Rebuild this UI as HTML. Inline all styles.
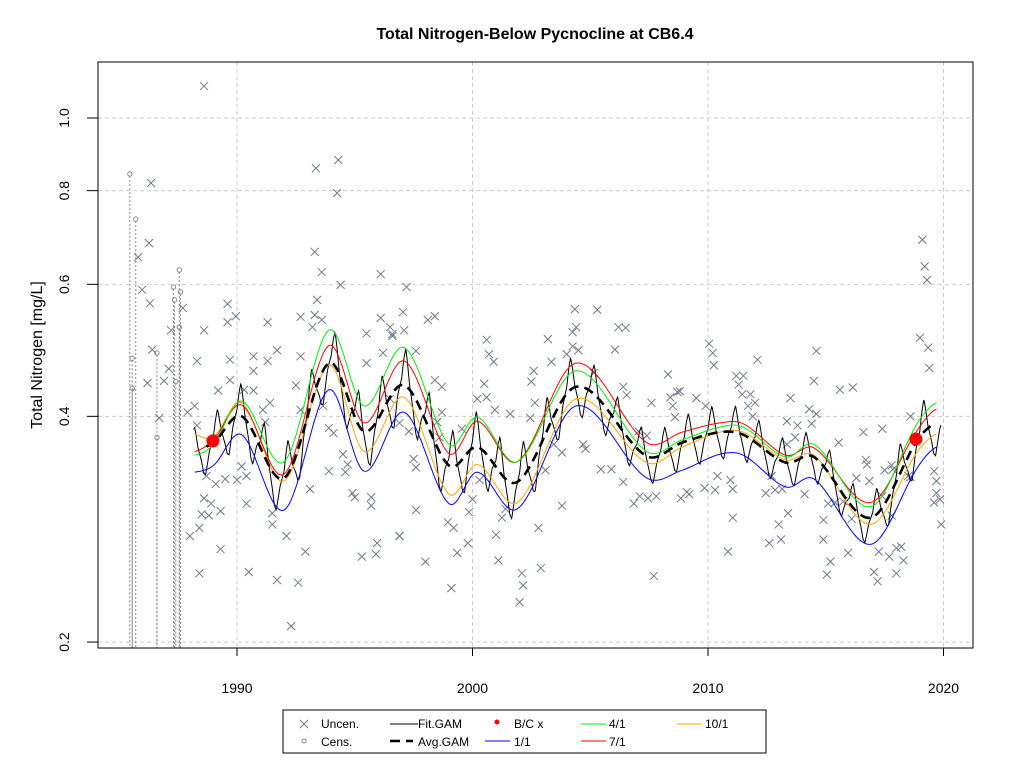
<!DOCTYPE html>
<html><head><meta charset="utf-8"><style>
body{margin:0;background:#fff;}
svg{display:block;font-family:"Liberation Sans",Arial,sans-serif;}
</style></head><body>
<svg id="chart" width="1024" height="768" viewBox="0 0 1024 768">
<rect x="0" y="0" width="1024" height="768" fill="#fff"/>
<text x="535" y="39" text-anchor="middle" font-size="16" font-weight="bold">Total Nitrogen-Below Pycnocline at CB6.4</text>
<g id="grid"></g>
<g id="cens"></g>
<g id="unc"></g>
<g id="lines"></g>
<g id="bc"></g>
<rect x="98" y="62" width="875" height="586" fill="none" stroke="#000" stroke-width="1"/>
<g id="axes"></g>
<text transform="translate(42,355) rotate(-90)" text-anchor="middle" font-size="16">Total Nitrogen [mg/L]</text>
<g>
<rect x="283" y="710" width="483" height="43" fill="#fff" stroke="#000" stroke-width="1"/>
<g><path d="M300,720L308,728M300,728L308,720" stroke="#6b7b8c"/><text x="321" y="728" font-size="12">Uncen.</text></g>
<g><circle cx="304" cy="741" r="2" fill="none" stroke="#888"/><text x="321" y="746" font-size="12">Cens.</text></g>
<g><line x1="390" y1="724" x2="418" y2="724" stroke="#000"/><text x="418" y="728" font-size="12">Fit.GAM</text></g>
<g><line x1="390" y1="741" x2="413" y2="741" stroke="#000" stroke-width="2.5" stroke-dasharray="10 6"/><text x="418" y="746" font-size="12">Avg.GAM</text></g>
<g><circle cx="497" cy="722" r="2.5" fill="red"/><text x="514" y="728" font-size="12">B/C x</text></g>
<g><line x1="485" y1="741" x2="510" y2="741" stroke="#0000ff"/><text x="514" y="746" font-size="12">1/1</text></g>
<g><line x1="581" y1="724" x2="606" y2="724" stroke="#00ee00"/><text x="609" y="728" font-size="12">4/1</text></g>
<g><line x1="581" y1="741" x2="606" y2="741" stroke="#ff0000"/><text x="609" y="746" font-size="12">7/1</text></g>
<g><line x1="677" y1="724" x2="702" y2="724" stroke="#ffa500"/><text x="705" y="728" font-size="12">10/1</text></g>
</g>
</svg>
<script>
// ---- data ----
const curveYears = [1988.2,1989,1990.2,1992.0,1993.9,1995.4,1997.1,1999.0,2000.2,2001.9,2004.4,2007.4,2008.9,2010.5,2011.5,2013.3,2014.5,2016.9,2018.9,2019.7];
const green4_1 = [.355,.367,.419,.348,.521,.413,.494,.367,.399,.348,.460,.359,.372,.387,.387,.353,.367,.303,.392,.417];
const red7_1 = [.359,.372,.414,.335,.497,.392,.474,.357,.394,.348,.471,.369,.381,.392,.391,.355,.363,.307,.384,.409];
const orange10_1 = [.378,.375,.417,.328,.468,.359,.424,.315,.345,.307,.422,.347,.364,.381,.381,.350,.355,.287,.359,.379];
const blue1_1 = [.337,.344,.378,.300,.434,.338,.405,.306,.337,.301,.413,.331,.339,.356,.355,.322,.330,.270,.342,.364];
const avgGam = [.361,.369,.400,.331,.471,.382,.440,.344,.364,.327,.438,.354,.369,.381,.378,.347,.353,.293,.372,.392];
const ampYears = [1988,1990,1992,1994,1997,1999,2000,2002,2004,2007,2010,2013,2015,2017,2019,2020];
const ampValues = [0.08,0.1,0.105,0.105,0.115,0.115,0.11,0.11,0.1,0.08,0.085,0.075,0.075,0.08,0.1,0.1];
const seasonShape = [0.2,0.7,1.0,0.6,0.1,-0.2,-0.5,-0.9,-1.0,-0.6,-0.2,0.0];
const uncYears = [1988.6,1986.35,1993.35,1994.3,1994.25,1986.26,1985.8,1993.3,1993.6,1996.1,1994.4,1985.97,1986.3,1993.4,1987.7,1989.6,1989.6,1989.95,1991.3,1988.6,1987.2,1992.7,1993.3,1993.6,1993.2,1996.1,1996.5,1996.6,1995.5,1986.4,1988.3,1989.7,1990.7,1991.7,1991.3,1992.7,1990.7,1996.2,1995.5,1986.2,1986.9,1987.1,1989.2,1989.7,1990.3,1990.7,1992.5,1991.4,1991.1,1987.9,1988.2,1988.3,1986.7,1991.2,1992.7,1993.65,1993.9,1994.1,1996.5,1996.9,1994.5,1994.7,1990.2,1990.4,1988.7,1989.1,1989.5,1990.0,1993.9,1993.1,1990.4,1988.6,1988.9,1988.5,1988.8,1989.3,1988.4,1988.0,1989.3,1991.5,1991.5,1992.1,1992.3,1992.9,1991.7,1992.6,1990.5,1988.4,1994.9,1995.0,1995.7,1995.7,1995.3,1995.9,1995.95,1994.6,1996.9,
1997.2,1997.05,1997.1,1998.1,1998.4,1996.6,1997.6,1998.4,1998.7,1998.7,1998.5,1998.6,1997.3,1997.5,1997.6,1997.6,1996.9,1998.0,1999.1,1999.35,1999.8,1999.85,2000.0,1999.2,1998.95,1999.55,2000.3,2000.6,2000.7,2000.9,2000.5,2000.2,2000.6,2000.95,2001.6,2001.0,2001.1,2001.25,2001.4,2002.1,2002.15,2002.0,2002.9,2002.8,2003.8,2002.6,2002.5,2002.65,2002.45,2003.2,2003.35,2003.1,2003.8,2003.45,2004.35,2004.25,2004.4,2004.0,2004.25,2004.5,2005.3,2006.2,2006.5,2006.05,2005.15,2004.7,2004.8,2005.45,2005.9,2006.4,2006.55,2006.4,2006.85,2007.1,2007.45,2007.8,2008.85,2009.1,2007.7,2008.3,2008.7,2007.6,2008.4,2008.5,2008.6,2007.05,2007.4,
2010.05,2010.2,2010.25,2012.1,2014.6,2011.2,2011.5,2011.3,2014.5,2015.6,2016.15,2011.45,2011.8,2012.0,2011.7,2013.5,2014.3,2014.6,2013.35,2013.8,2014.4,2013.7,2013.35,2011.9,2009.5,2009.9,2016.6,2017.4,2015.55,2008.8,2010.4,2009.85,2010.3,2010.95,2011.05,2011.05,2010.85,2009.2,2012.45,2012.85,2013.15,2012.7,2013.4,2013.0,2013.1,2012.6,2014.1,2015.1,2015.4,2014.9,2014.9,2015.2,2015.05,2015.95,2016.75,2016.85,2016.3,2017.5,2017.8,2018.5,2018.6,2017.05,2017.2,2017.25,2017.7,2018.0,2018.2,2018.3,2018.0,2016.7,2015.75,2016.1,2017.8,2019.1,2019.2,2019.3,2019.0,2019.35,2019.4,2018.6,2019.6,2019.7,2019.7,2019.85,2019.6,2019.9,2017.4,2017.85];
const uncValues = [1.103,.819,.857,.879,.794,.681,.652,.663,.623,.619,.599,.590,.566,.572,.558,.565,.534,.544,.534,.521,.521,.543,.546,.538,.526,.541,.526,.512,.516,.491,.474,.476,.481,.490,.474,.481,.460,.486,.471,.443,.446,.463,.433,.447,.434,.433,.440,.417,.408,.405,.413,.389,.398,.393,.408,.413,.386,.380,.422,.392,.356,.345,.343,.333,.333,.325,.330,.329,.338,.320,.306,.311,.306,.296,.295,.299,.284,.277,.266,.297,.287,.277,.210,.264,.242,.240,.248,.247,.316,.312,.312,.304,.260,.262,.271,.337,.277,
.595,.551,.521,.538,.544,.515,.489,.447,.438,.405,.393,.375,.382,.351,.342,.300,.277,.256,.236,.263,.271,.298,.310,.284,.289,.385,.329,.506,.484,.473,.442,.422,.424,.408,.403,.278,.257,.293,.301,.247,.238,.226,.251,.284,.304,.460,.445,.417,.398,.507,.473,.339,.358,.367,.556,.518,.526,.484,.496,.490,.555,.526,.525,.491,.457,.367,.362,.340,.340,.438,.427,.327,.306,.313,.311,.313,.311,.317,.245,.455,.431,.417,.424,.413,.399,.382,.377,
.500,.486,.468,.476,.489,.453,.453,.441,.446,.434,.437,.428,.428,.417,.413,.423,.409,.403,.394,.389,.391,.375,.367,.400,.423,.413,.381,.385,.369,.432,.333,.321,.319,.329,.320,.293,.264,.315,.316,.319,.320,.333,.297,.287,.274,.271,.315,.306,.307,.291,.274,.256,.246,.263,.345,.328,.331,.339,.344,.333,.332,.248,.241,.264,.260,.267,.268,.257,.247,.350,.308,.292,.295,.688,.634,.608,.509,.494,.464,.400,.338,.328,.316,.310,.307,.287,.313,.340];
const censYears = [1985.45,1985.55,1985.55,1985.7,1986.6,1986.6,1987.3,1987.35,1987.55,1987.6,1987.55,1987.4];
const censValues = [.842,.478,.436,.733,.486,.375,.595,.572,.627,.586,.526,.445];
const bcYears = [1988.98,2018.83];
const bcValues = [.371,.373];
const yTicks = [0.2,0.4,0.6,0.8,1.0];
const yTickLabels = ["0.2","0.4","0.6","0.8","1.0"];
const xTicks = [1990,2000,2010,2020];

// ---- scales ----
const NS="http://www.w3.org/2000/svg";
function X(yr){return 237+(yr-1990)*23.55;}
function Y(v){return 118-Math.log(v)*325.6;}
function mk(tag,attrs,parent){const e=document.createElementNS(NS,tag);for(const k in attrs)e.setAttribute(k,attrs[k]);parent.appendChild(e);return e;}
function interp(xs,vs,t,logSpace){
  let i=0;while(i<xs.length-2&&t>xs[i+1])i++;
  const f=v=>logSpace?Math.log(v):v;
  const p1=f(vs[i]),p2=f(vs[i+1]);
  const p0=i>0?f(vs[i-1]):p1, p3=i+2<vs.length?f(vs[i+2]):p2;
  const x0=i>0?xs[i-1]:xs[i]-1, x1=xs[i],x2=xs[i+1],x3=i+2<xs.length?xs[i+2]:xs[i+1]+1;
  const m1=(p2-p0)/(x2-x0)*(x2-x1), m2=(p3-p1)/(x3-x1)*(x2-x1);
  const s=Math.max(0,Math.min(1,(t-x1)/(x2-x1)));
  const s2=s*s,s3=s2*s;
  const r=(2*s3-3*s2+1)*p1+(s3-2*s2+s)*m1+(-2*s3+3*s2)*p2+(s3-s2)*m2;
  return logSpace?Math.exp(r):r;
}
const grid=document.getElementById('grid');
yTicks.forEach(v=>{const l=mk('line',{x1:98,x2:973,y1:Y(v),y2:Y(v),stroke:'#cccccc','stroke-dasharray':'4 3'},grid);

});
xTicks.forEach(yr=>{const l=mk('line',{x1:X(yr),x2:X(yr),y1:62,y2:648,stroke:'#cccccc','stroke-dasharray':'4 3'},grid);

});
const axes=document.getElementById('axes');
yTicks.forEach((v,i)=>{mk('line',{x1:87,x2:98,y1:Y(v),y2:Y(v),stroke:'#000'},axes);
const t=mk('text',{transform:`translate(69,${Y(v)}) rotate(-90)`,'text-anchor':'middle','font-size':'14'},axes);t.textContent=yTickLabels[i];

});
xTicks.forEach(yr=>{mk('line',{x1:X(yr),x2:X(yr),y1:648,y2:656,stroke:'#000'},axes);
const t=mk('text',{x:X(yr),y:693,'text-anchor':'middle','font-size':'14'},axes);t.textContent=String(yr);

});
// censored
const cg=document.getElementById('cens');
censYears.forEach((yr,i)=>{const x=X(yr),y=Y(censValues[i]);
const l=mk('line',{x1:x,x2:x,y1:y+2,y2:648,stroke:'#888','stroke-dasharray':'2 2'},cg);


const c=mk('circle',{cx:x,cy:y,r:2.2,fill:'none',stroke:'#888'},cg);

});
// uncensored
const ug=document.getElementById('unc');
uncYears.forEach((yr,i)=>{const x=X(yr),y=Y(uncValues[i]);
const p=mk('path',{d:`M${x-4},${y-4}L${x+4},${y+4}M${x-4},${y+4}L${x+4},${y-4}`,stroke:'#6b7b8c','stroke-width':1},ug);

});
// curves
const lg=document.getElementById('lines');
function curvePath(vals,t0,t1){let d='';for(let t=t0;t<=t1+1e-9;t+=0.05){d+=(d?'L':'M')+X(t).toFixed(1)+','+Y(interp(curveYears,vals,t,true)).toFixed(1);}return d;}
// fit gam
let fd='';
for(let t=1988.2;t<=2019.9;t+=1/48){
  const a=interp(ampYears,ampValues,t,false);
  const m=(t-Math.floor(t))*12;const mi=Math.floor(m),fr=m-mi;
  const sh=seasonShape[mi%12]*(1-fr)+seasonShape[(mi+1)%12]*fr;
  const v=interp(curveYears,avgGam,Math.min(t,2019.7),true)*Math.exp(a*sh);
  fd+=(fd?'L':'M')+X(t).toFixed(1)+','+Y(v).toFixed(1);
}
const fit=mk('path',{d:fd,fill:'none',stroke:'#000','stroke-width':1},lg);


const series=[[blue1_1,'#0000ff','line-1-1'],[orange10_1,'#ffa500','line-10-1'],[red7_1,'#ff0000','line-7-1'],[green4_1,'#00ee00','line-4-1']];
series.forEach(s=>{const p=mk('path',{d:curvePath(s[0],1988.2,2019.7),fill:'none',stroke:s[1],'stroke-width':1},lg);

});
const av=mk('path',{d:curvePath(avgGam,1988.7,2019.6),fill:'none',stroke:'#000','stroke-width':2.6,'stroke-dasharray':'10 6'},lg);


const bg=document.getElementById('bc');
bcYears.forEach((yr,i)=>{const c=mk('circle',{cx:X(yr),cy:Y(bcValues[i]),r:6.5,fill:'#ff0000'},bg);

});
</script>
</body></html>
